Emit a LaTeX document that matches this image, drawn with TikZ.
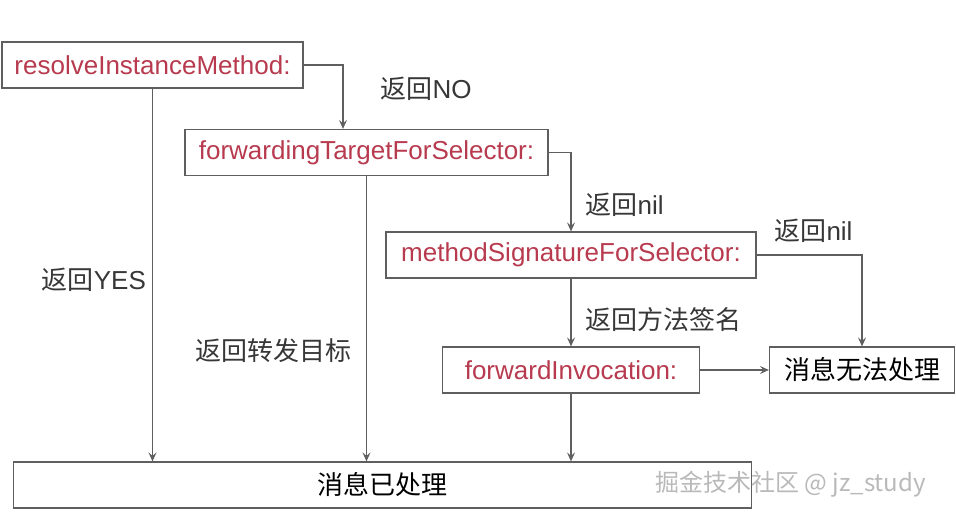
\documentclass[tikz,border=0pt]{standalone}
\usepackage{fontspec}
\setmainfont{Liberation Sans}
\newfontfamily\cjk{Noto Sans CJK SC}
\usetikzlibrary{arrows.meta,positioning}
\definecolor{methodred}{RGB}{183,58,78}
\definecolor{linegray}{RGB}{95,95,95}
\definecolor{labelgray}{RGB}{55,55,55}

\begin{document}
\begin{tikzpicture}[
	x = 1pt, y = -1pt,
	on grid,
	> = {Stealth[length=9pt,width=8pt,inset=3.5pt]},
	every node/.style = {font=\fontsize{26}{30}\selectfont},
	box/.style = {draw=linegray, line width=1.2pt, minimum height=46pt, inner sep=0pt},
	method/.style = {box, text=methodred},
	result/.style = {box, text=black},
	lbl/.style = {text=labelgray, inner sep=0pt},
	flow/.style = {->, draw=linegray, line width=1.2pt}
	]
	\useasboundingbox (0,0) rectangle (956,513);
	\node[method, minimum width=301pt] (resolve) at (152.5,65) {resolveInstanceMethod:};
	\node[method, minimum width=363pt] (forwarding) [below right=87.5pt and 214pt of resolve] {forwardingTargetForSelector:};
	\node[method, minimum width=370pt] (signature) [below right=102.5pt and 204.5pt of forwarding] {methodSignatureForSelector:};
	\node[method, minimum width=257pt] (invocation) [below=115pt of signature] {forwardInvocation:};
	\node[result, minimum width=185pt] (unhandled) [right=291pt of invocation] {{\cjk 消息无法处理}};
	\node[result, minimum width=738pt] (handled) [below left=115pt and 188.5pt of invocation] {{\cjk 消息已处理}};
	\node[text=gray!55, font=\cjk\fontsize{24}{28}\selectfont, anchor=west, inner sep=0pt] (watermark) at (655,484) {掘金技术社区 @ jz\_study};
	\draw[flow] (resolve.east) -| node[lbl, pos=0.69, right=37pt] {{\cjk 返回}NO} ([xshift=-23.5pt]forwarding.north);
	\draw[flow] (resolve.south) -- node[lbl, pos=0.513, left=6pt] {{\cjk 返回}YES} (resolve.south |- handled.north);
	\draw[flow] (forwarding.south) -- node[lbl, pos=0.61, left=14pt] {{\cjk 返回转发目标}} (forwarding.south |- handled.north);
	\draw[flow] (forwarding.east) -| node[lbl, pos=0.83, right=14pt] {{\cjk 返回}nil} (signature.north);
	\draw[flow] (signature.east) -| node[lbl, pos=0.27, above=12pt] {{\cjk 返回}nil} (unhandled.north);
	\draw[flow] (signature.south) -- node[lbl, pos=0.61, right=14pt] {{\cjk 返回方法签名}} (invocation.north);
	\draw[flow] (invocation.east) -- (unhandled.west);
	\draw[flow] (invocation.south) -- (invocation.south |- handled.north);
\end{tikzpicture}
\end{document}
